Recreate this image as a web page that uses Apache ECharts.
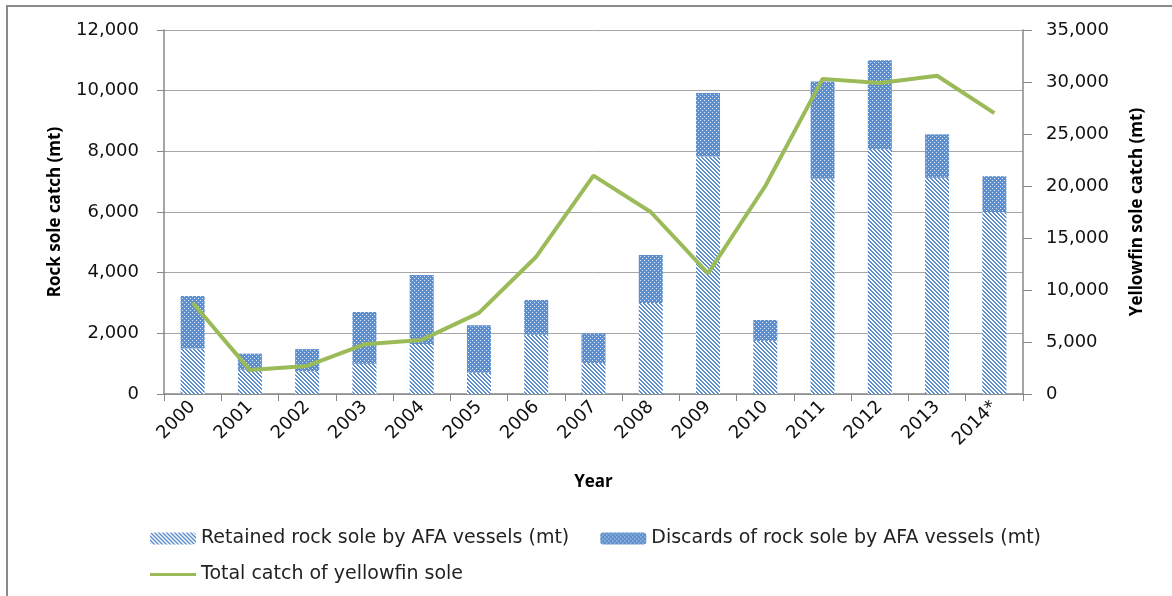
<!DOCTYPE html>
<html>
<head>
<meta charset="utf-8">
<script src="https://cdn.jsdelivr.net/npm/echarts@6/dist/echarts.min.js"></script>
<style>html,body{margin:0;padding:0;background:#fff}#c{width:1172px;height:596px}</style>
</head>
<body>
<div id="c"></div>
<script>
const categories = ['2000','2001','2002','2003','2004','2005','2006','2007','2008','2009','2010','2011','2012','2013','2014*'];
const retained = [1500, 800, 750, 1000, 1650, 700, 1950, 1020, 3000, 7830, 1750, 7100, 8070, 7130, 6000];
const discards = [1730, 530, 730, 1700, 2270, 1570, 1150, 980, 1580, 2090, 690, 3200, 2930, 1430, 1180];
const yellowfin = [8780, 2300, 2700, 4780, 5200, 7800, 13200, 21000, 17500, 11600, 20000, 30300, 29900, 30600, 27000];
const leftTicks = [0, 12000, 2000];
const rightTicks = [0, 35000, 5000];

function hatch() {
  const c = document.createElement('canvas');
  c.width = 4; c.height = 4;
  const g = c.getContext('2d');
  g.fillStyle = '#ffffff'; g.fillRect(0,0,4,4);
  g.fillStyle = '#5B8CCB';
  for (let i = 0; i < 4; i++) { g.fillRect(i, i, 1, 1); g.fillRect((i+1)%4, i, 1, 1); }
  return c;
}
function dots() {
  const c = document.createElement('canvas');
  c.width = 4; c.height = 4;
  const g = c.getContext('2d');
  g.fillStyle = '#5E90CF'; g.fillRect(0,0,4,4);
  g.fillStyle = '#dfe9f6';
  g.fillRect(0,0,1,1); g.fillRect(2,2,1,1);
  return c;
}
const fmt = v => v.toLocaleString('en-US');
const font = '"DejaVu Sans", sans-serif';
const titleFont = '"Open Sans", sans-serif';
const chart = echarts.init(document.getElementById('c'));
chart.setOption({
  animation: false,
  backgroundColor: '#fff',
  textStyle: { fontFamily: font },
  graphic: [{ type: 'rect', shape: { x: 7, y: 6, width: 1300, height: 700 }, style: { fill: 'none', stroke: '#8a8a8a', lineWidth: 2 }, silent: true }],
  grid: { left: 164, right: 149, top: 30, bottom: 202 },
  legend: [{
    left: 145, top: 524, itemWidth: 46, itemHeight: 12, itemGap: 31, itemGap2: 0,
    textStyle: { fontSize: 19, color: '#222', fontFamily: font },
    data: ['Retained rock sole by AFA vessels (mt)', 'Discards of rock sole by AFA vessels (mt)']
  }, {
    left: 145, top: 560, itemWidth: 46, itemHeight: 12,
    textStyle: { fontSize: 19, color: '#222', fontFamily: font },
    data: [{ name: 'Total catch of yellowfin sole', icon: 'path://M0,5L46,5L46,8L0,8Z' }]
  }],
  xAxis: {
    type: 'category', data: categories,
    name: 'Year', nameLocation: 'middle', nameGap: 80,
    nameTextStyle: { fontWeight: 'bold', fontSize: 17, color: '#000', fontFamily: titleFont },
    axisLine: { lineStyle: { color: '#888', width: 1.5 } },
    axisTick: { show: true, length: 7, lineStyle: { color: '#888' } },
    axisLabel: { rotate: 45, fontSize: 18, color: '#111', margin: 10, interval: 0 }
  },
  yAxis: [{
    type: 'value', min: leftTicks[0], max: leftTicks[1], interval: leftTicks[2],
    name: 'Rock sole catch (mt)', nameLocation: 'middle', nameGap: 100,
    nameTextStyle: { fontWeight: 'bold', fontSize: 17, color: '#000', fontFamily: titleFont },
    axisLine: { show: true, lineStyle: { color: '#888', width: 1.5 } },
    axisTick: { show: true, length: 7, lineStyle: { color: '#888' } },
    axisLabel: { formatter: fmt, fontSize: 18, color: '#111', margin: 25 },
    splitLine: { lineStyle: { color: '#a6a6a6', width: 1 } }
  }, {
    type: 'value', min: rightTicks[0], max: rightTicks[1], interval: rightTicks[2],
    name: 'Yellowfin sole catch (mt)', nameLocation: 'middle', nameGap: 106, nameRotate: 90,
    nameTextStyle: { fontWeight: 'bold', fontSize: 17, color: '#000', fontFamily: titleFont },
    axisLine: { show: true, lineStyle: { color: '#888', width: 1.5 } },
    axisTick: { show: true, length: 9, lineStyle: { color: '#888' } },
    axisLabel: { formatter: fmt, fontSize: 18, color: '#111', margin: 23 },
    splitLine: { show: false }
  }],
  series: [{
    name: 'Retained rock sole by AFA vessels (mt)', type: 'bar', stack: 'rs', data: retained,
    barWidth: 24, itemStyle: { color: { image: hatch(), repeat: 'repeat' } }
  }, {
    name: 'Discards of rock sole by AFA vessels (mt)', type: 'bar', stack: 'rs', data: discards,
    barWidth: 24, itemStyle: { color: { image: dots(), repeat: 'repeat' } }
  }, {
    name: 'Total catch of yellowfin sole', type: 'line', yAxisIndex: 1, data: yellowfin,
    symbol: 'none', lineStyle: { color: '#9BBB59', width: 4 }, itemStyle: { color: '#9BBB59' }
  }]
});
</script>
</body>
</html>
